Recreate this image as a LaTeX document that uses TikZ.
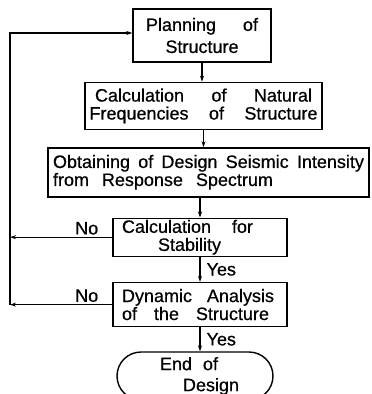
\documentclass[tikz,border=0pt]{standalone}
\usepackage{fontspec}
\setmainfont{Liberation Sans}[FakeBold=0.6]
\usetikzlibrary{arrows.meta,positioning,shapes.misc}
\newcommand{\spreadtext}[2]{\makebox[#1][s]{\spaceskip=.3em plus 1fil\relax #2}}

\begin{document}
\begin{tikzpicture}[x=1pt,y=-1pt,>={Stealth[length=6pt,width=4pt]},
  every node/.style={font=\fontsize{18}{18}\selectfont},
  box/.style={draw,line width=1.4pt,inner sep=0pt},
  line/.style={line width=1.2pt},
  lbl/.style={inner sep=2pt}]
\useasboundingbox (0,0) rectangle (372,394);
\node[box,minimum width=138pt,minimum height=53pt,align=center] (plan) at (202,35.5)
  {\spreadtext{112pt}{Planning of}\\[4pt]Structure};
\node[box,minimum width=237pt,minimum height=47pt,align=center,below=19pt of plan,xshift=1.5pt] (calc)
  {\spreadtext{217pt}{Calculation of Natural}\\\spreadtext{228pt}{Frequencies of Structure}};
\node[box,minimum width=321pt,minimum height=49pt,text width=311pt,align=left,below=17pt of calc,xshift=5pt] (obt)
  {\spreadtext{311pt}{Obtaining of Design Seismic Intensity}\\\spreadtext{220pt}{from Response Spectrum}};
\node[box,minimum width=174pt,minimum height=38pt,text width=156pt,align=left,below=20pt of obt,xshift=-8.5pt] (stab)
  {\spreadtext{131pt}{Calculation for}\\\hspace*{36pt}Stability};
\node[box,minimum width=174pt,minimum height=44pt,text width=156pt,align=left,below=25pt of stab] (dyn)
  {\spreadtext{152pt}{Dynamic Analysis}\\\spreadtext{147pt}{of the Structure}};
\node[box,rounded rectangle,minimum width=156pt,minimum height=48pt,text width=90pt,align=left,below=24pt of dyn,xshift=-5pt] (fin)
  {\hspace*{10pt}\spreadtext{58pt}{End of}\\[3pt]\hspace*{33pt}Design};
% main flow
\draw[line,->] (plan.south) -- (plan.south |- calc.north);
\draw[line,->] (calc.south) -- (calc.south |- obt.north);
\draw[line,->] (stab.north |- obt.south) -- (stab.north);
\draw[line,->] (stab) -- node[right,lbl,inner xsep=6pt]{Yes} (dyn);
\draw[line,->] (dyn.south) -- node[right,lbl,inner xsep=6pt]{Yes} (dyn.south |- fin.north);
% return loop
\coordinate (lft) at (10,33);
\draw[line,->] (stab.west) -- node[above,lbl,pos=0.25]{No} (stab.west -| lft);
\draw[line,->] (dyn.west) -- node[above,lbl,pos=0.25]{No} (dyn.west -| lft);
\draw[line,->] (dyn.west -| lft) -- (lft) -- (lft -| plan.west);
\end{tikzpicture}
\end{document}
